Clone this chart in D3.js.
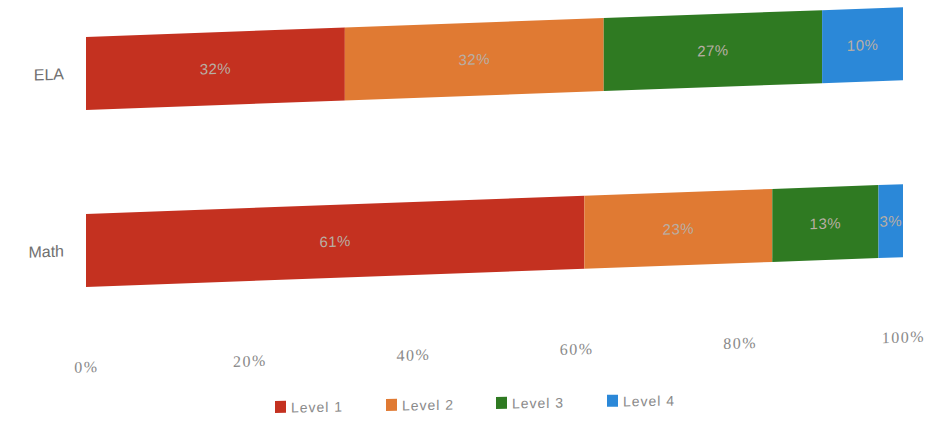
<!DOCTYPE html>
<html><head><meta charset="utf-8">
<script src="https://cdn.jsdelivr.net/npm/d3@7"></script>
<style>
html,body{margin:0;padding:0;background:#fff;}
svg{display:block;}
text{font-family:"Liberation Sans Narrow","Liberation Sans",Arial,sans-serif;}
</style></head>
<body>
<svg id="chart" width="934" height="429"></svg>
<script>
const categories = ["ELA", "Math"];
const seriesNames = ["Level 1", "Level 2", "Level 3", "Level 4"];
const level1 = [32, 61];
const level2 = [32, 23];
const level3 = [27, 13];
const level4 = [10, 3];
const tickValues = [0, 0.2, 0.4, 0.6, 0.8, 1.0];
const tickLabels = ["0%", "20%", "40%", "60%", "80%", "100%"];
const colors = ["#c43120", "#e07a33", "#2f7a22", "#2b88d8"];

const seriesValues = [level1, level2, level3, level4];
const rows = categories.map((c, i) => {
  const r = {cat: c};
  seriesNames.forEach((s, j) => r[s] = seriesValues[j][i]);
  return r;
});
const stack = d3.stack().keys(seriesNames)
  .offset(d3.stackOffsetExpand);
const stacked = stack(rows);

const svg = d3.select("#chart");
const g = svg.append("g").attr("transform", "translate(86,37) skewY(-2.09)");

const x = d3.scaleLinear().domain([0, 1]).range([0, 817]);
const y = d3.scaleBand().domain(categories).range([0, 250]).paddingInner(0.5876).paddingOuter(0);
const color = d3.scaleOrdinal().domain(seriesNames).range(colors);

const layers = g.selectAll("g.layer").data(stacked).enter().append("g")
  .attr("class", "layer").attr("fill", d => color(d.key));
layers.selectAll("rect").data(d => d).enter().append("rect")
  .attr("x", d => x(d[0]))
  .attr("y", d => y(d.data.cat))
  .attr("width", d => x(d[1]) - x(d[0]))
  .attr("height", y.bandwidth());

// data labels
layers.selectAll("text").data(d => d.map(v => ({v, key: d.key}))).enter().append("text")
  .attr("x", d => (x(d.v[0]) + x(d.v[1])) / 2)
  .attr("y", d => y(d.v.data.cat) + y.bandwidth() / 2)
  .attr("dy", "0.35em")
  .attr("text-anchor", "middle")
  .attr("font-size", 15)
  .attr("letter-spacing", 0.5)
  .attr("fill", "#b8aea4")
  .text(d => d.v.data[d.key] + "%");

// category axis
const yAxis = d3.axisLeft(y).tickSize(0).tickPadding(22);
const ya = g.append("g").call(yAxis);
ya.select(".domain").remove();
ya.selectAll("text").attr("font-size", 16).attr("fill", "#707070")
  .style("font-family", '"Liberation Sans Narrow","Liberation Sans",Arial,sans-serif');

// value axis
const xAxis = d3.axisBottom(x).tickValues(tickValues)
  .tickFormat((d, i) => tickLabels[i]).tickSize(0).tickPadding(0);
const xa = g.append("g").attr("transform", "translate(0,324)").call(xAxis);
xa.select(".domain").remove();
xa.selectAll("text").attr("font-size", 16).attr("fill", "#8a8a8a")
  .attr("letter-spacing", 1.5)
  .style("font-family", '"Liberation Serif","Times New Roman",serif');

// legend
const legendX = [275, 386, 496, 607];
const lg = svg.append("g").attr("transform", "translate(0,0) skewY(-1.05)");
const items = lg.selectAll("g.item").data(seriesNames).enter().append("g")
  .attr("class", "item")
  .attr("transform", (d, i) => `translate(${legendX[i]},${413})`);
items.append("rect").attr("x", 0).attr("y", -7).attr("width", 11).attr("height", 12)
  .attr("fill", d => color(d));
items.append("text").attr("x", 16).attr("y", 0).attr("dy", "0.35em")
  .attr("font-size", 14).attr("letter-spacing", 1).attr("fill", "#8a8a8a").text(d => d);
</script>
</body></html>
